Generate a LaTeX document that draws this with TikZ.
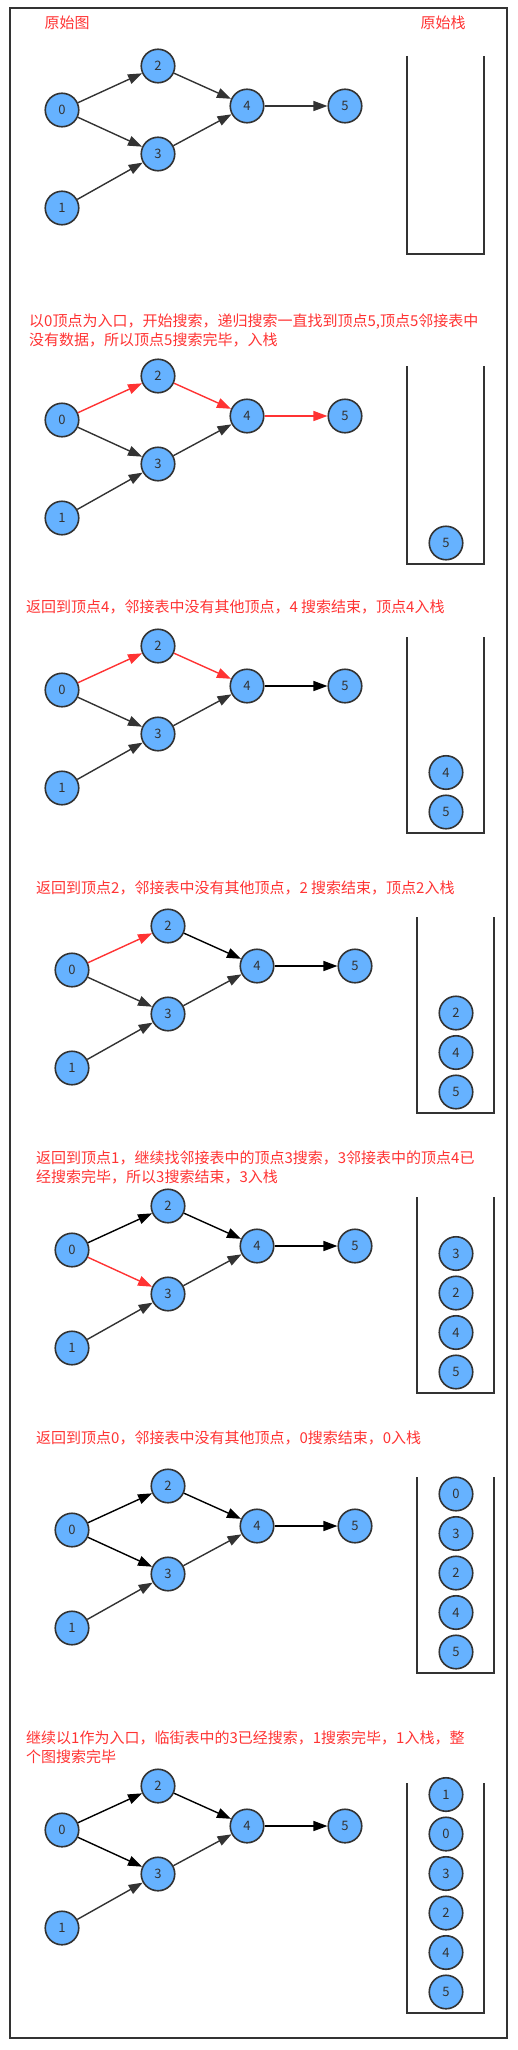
\documentclass[tikz,border=0pt]{standalone}
\usepackage{fontspec}
\setmainfont{Noto Sans CJK SC}
\usetikzlibrary{arrows.meta}

\definecolor{nodeblue}{HTML}{66B2FF}
\definecolor{linegray}{HTML}{333333}
\definecolor{notered}{HTML}{FF3333}

\tikzset{
  vertex/.style={circle, draw=linegray, line width=1.6pt, fill=nodeblue,
    minimum size=33.5pt, inner sep=0pt, text=linegray,
    font=\fontsize{13}{13}\selectfont},
  edge/.style={line width=1.4pt, -{Triangle[length=14pt,width=10pt]}},
  plain/.style={draw=linegray, fill=linegray},
  done/.style={draw=black, fill=black},
  visit/.style={draw=notered, fill=notered},
  note/.style={anchor=west, inner sep=0pt, text=notered, align=left,
    font=\fontsize{15}{19}\selectfont},
  stackwall/.style={line width=1.6pt, draw=linegray},
}

% one graph, node 0 at the origin: #1 prefix, #2..#7 edges 0-2, 0-3, 1-3, 2-4, 3-4, 4-5
\newcommand{\dfsgraph}[7]{%
  \node [vertex] (#10) at (0,0) {0};
  \node [vertex] (#11) at (0,98) {1};
  \node [vertex] (#12) at (96,-44) {2};
  \node [vertex] (#13) at (96,44) {3};
  \node [vertex] (#14) at (185,-4) {4};
  \node [vertex] (#15) at (283,-4) {5};
  \draw [edge, #2] (#10) -- (#12);
  \draw [edge, #3] (#10) -- (#13);
  \draw [edge, #4] (#11) -- (#13);
  \draw [edge, #5] (#12) -- (#14);
  \draw [edge, #6] (#13) -- (#14);
  \draw [edge, #7] (#14) -- (#15);
}

% stack walls: #1 top, #2 bottom (relative to node 0)
\newcommand{\dfsstack}[2]{%
  \draw [stackwall] (345,#1) -- (345,#2) -- (422,#2) -- (422,#1);
}

\begin{document}
\begin{tikzpicture}[x=1pt, y=-1pt]
  \useasboundingbox (0,0) rectangle (518,2050);
  {\footnotesize

  % Drawing outer frame
  \draw [line width=1.6pt, draw=linegray] (10,8) rectangle (507,2038);

  % Step 1: original graph
  \node [note, anchor=center] (title1) at (67,23) {原始图};
  \node [note, anchor=center] (title2) at (443,23) {原始栈};
  \begin{scope}[shift={(62,110)}]
    \dfsgraph{a}{plain}{plain}{plain}{plain}{plain}{plain}
    \dfsstack{-54}{144}
  \end{scope}

  % Step 2: push 5
  \node [note] (text2) at (29,330.5) {以0顶点为入口，开始搜索，递归搜索一直找到顶点5,顶点5邻接表中\\没有数据，所以顶点5搜索完毕，入栈};
  \begin{scope}[shift={(62,420)}]
    \dfsgraph{b}{visit}{plain}{plain}{visit}{plain}{visit}
    \dfsstack{-54}{144}
    \foreach \v [count=\i] in {5}
      \node [vertex] (bs\i) at (384,123-39.5*\i+39.5) {\v};
  \end{scope}

  % Step 3: push 4
  \node [note] (text3) at (26,607) {返回到顶点4，邻接表中没有其他顶点，4 搜索结束，顶点4入栈};
  \begin{scope}[shift={(62,690)}]
    \dfsgraph{c}{visit}{plain}{plain}{visit}{plain}{done}
    \dfsstack{-53}{143}
    \foreach \v [count=\i] in {5,4}
      \node [vertex] (cs\i) at (384,122-39.5*\i+39.5) {\v};
  \end{scope}

  % Step 4: push 2
  \node [note] (text4) at (36,888) {返回到顶点2，邻接表中没有其他顶点，2 搜索结束，顶点2入栈};
  \begin{scope}[shift={(72,970)}]
    \dfsgraph{d}{visit}{plain}{plain}{done}{plain}{done}
    \dfsstack{-53}{143}
    \foreach \v [count=\i] in {5,4,2}
      \node [vertex] (ds\i) at (384,122-39.5*\i+39.5) {\v};
  \end{scope}

  % Step 5: push 3
  \node [note] (text5) at (36,1167.5) {返回到顶点1，继续找邻接表中的顶点3搜索，3邻接表中的顶点4已\\经搜索完毕，所以3搜索结束，3入栈};
  \begin{scope}[shift={(72,1250)}]
    \dfsgraph{e}{done}{visit}{plain}{done}{plain}{done}
    \dfsstack{-53}{143}
    \foreach \v [count=\i] in {5,4,2,3}
      \node [vertex] (es\i) at (384,122-39.5*\i+39.5) {\v};
  \end{scope}

  % Step 6: push 0
  \node [note] (text6) at (36,1438) {返回到顶点0，邻接表中没有其他顶点，0搜索结束，0入栈};
  \begin{scope}[shift={(72,1530)}]
    \dfsgraph{f}{done}{done}{plain}{done}{plain}{done}
    \dfsstack{-53}{143}
    \foreach \v [count=\i] in {5,4,2,3,0}
      \node [vertex] (fs\i) at (384,122-39.5*\i+39.5) {\v};
  \end{scope}

  % Step 7: push 1
  \node [note] (text7) at (26,1747.5) {继续以1作为入口，临街表中的3已经搜索，1搜索完毕，1入栈，整\\个图搜索完毕};
  \begin{scope}[shift={(62,1830)}]
    \dfsgraph{g}{done}{done}{plain}{done}{plain}{done}
    \dfsstack{-47}{183}
    \foreach \v [count=\i] in {5,4,2,3,0,1}
      \node [vertex] (gs\i) at (384,162-39.5*\i+39.5) {\v};
  \end{scope}
  }
\end{tikzpicture}
\end{document}
